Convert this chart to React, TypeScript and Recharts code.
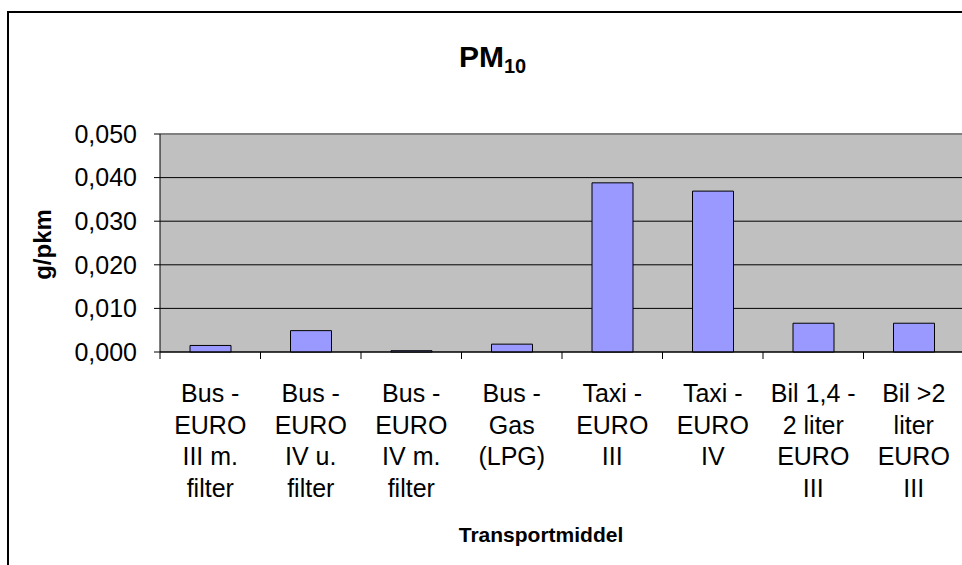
import { BarChart, Bar, XAxis, YAxis, CartesianGrid, ReferenceLine } from "recharts"

const categories = [
  "Bus -\nEURO\nIII m.\nfilter",
  "Bus -\nEURO\nIV u.\nfilter",
  "Bus -\nEURO\nIV m.\nfilter",
  "Bus -\nGas\n(LPG)",
  "Taxi -\nEURO\nIII",
  "Taxi -\nEURO\nIV",
  "Bil 1,4 -\n2 liter\nEURO\nIII",
  "Bil >2\nliter\nEURO\nIII",
]
const pm10 = [0.0015, 0.0049, 0.0003, 0.0018, 0.0388, 0.0369, 0.0066, 0.0066]
const yTicks = [0, 0.01, 0.02, 0.03, 0.04, 0.05]

const FONT = "'Liberation Sans', Arial, sans-serif"
const BAND = 804 / categories.length

const data = categories.map((name, i) => ({ name, value: pm10[i] }))

const XTick = (props: any) => {
  const { x, y, payload } = props
  const lines = String(payload.value).split("\n")
  return (
    <g>
      <line x1={x - BAND / 2} y1={y} x2={x - BAND / 2} y2={y + 7} stroke="#000" strokeWidth={1} />
      <text x={x} y={y + 50} textAnchor="middle" fontSize={25} fill="#000" fontFamily={FONT}>
        {lines.map((l, i) => (
          <tspan key={i} x={x} dy={i === 0 ? 0 : 31.5}>
            {l}
          </tspan>
        ))}
      </text>
    </g>
  )
}

export default function App() {
  return (
    <div style={{ position: "absolute", left: 0, top: 0, width: 962, height: 565, overflow: "hidden", background: "#fff" }}>
      <div
        style={{
          position: "absolute",
          left: 7,
          top: 11,
          width: 1100,
          height: 1100,
          border: "2px solid #000",
        }}
      />
      <div style={{ position: "absolute", left: 0, top: 0 }}>
        <BarChart width={1000} height={620} data={data} margin={{ top: 134, right: 36, left: 10, bottom: 0 }}>
          <CartesianGrid vertical={false} stroke="#000" fill="#C0C0C0" fillOpacity={1} />
          <ReferenceLine y={0.05} stroke="#808080" strokeWidth={2} />
          <XAxis
            dataKey="name"
            height={268}
            interval={0}
            tickLine={false}
            tickSize={0}
            tickMargin={0}
            axisLine={{ stroke: "#000" }}
            tick={<XTick />}
          />
          <YAxis
            width={150}
            domain={[0, 0.05]}
            ticks={yTicks}
            interval={0}
            tickSize={6}
            tickMargin={17}
            tickLine={{ stroke: "#000" }}
            axisLine={{ stroke: "#000" }}
            tickFormatter={(v: number) => v.toFixed(3).replace(".", ",")}
            tick={{ fill: "#000", fontSize: 25, fontFamily: FONT }}
          />
          <Bar dataKey="value" fill="#9999FF" stroke="#000" strokeWidth={1} barSize={41} isAnimationActive={false} />
        </BarChart>
      </div>
      <svg width={962} height={565} style={{ position: "absolute", left: 0, top: 0, pointerEvents: "none" }}>
        <text x={459} y={67} fontFamily={FONT} fontWeight="bold" fontSize={30} fill="#000">
          PM
          <tspan fontSize={20} dy={6}>
            10
          </tspan>
        </text>
        <text
          transform="translate(51,244.5) rotate(-90)"
          textAnchor="middle"
          fontFamily={FONT}
          fontWeight="bold"
          fontSize={24}
          fill="#000"
        >
          g/pkm
        </text>
        <text x={541} y={542} textAnchor="middle" fontFamily={FONT} fontWeight="bold" fontSize={21} fill="#000">
          Transportmiddel
        </text>
      </svg>
    </div>
  )
}
